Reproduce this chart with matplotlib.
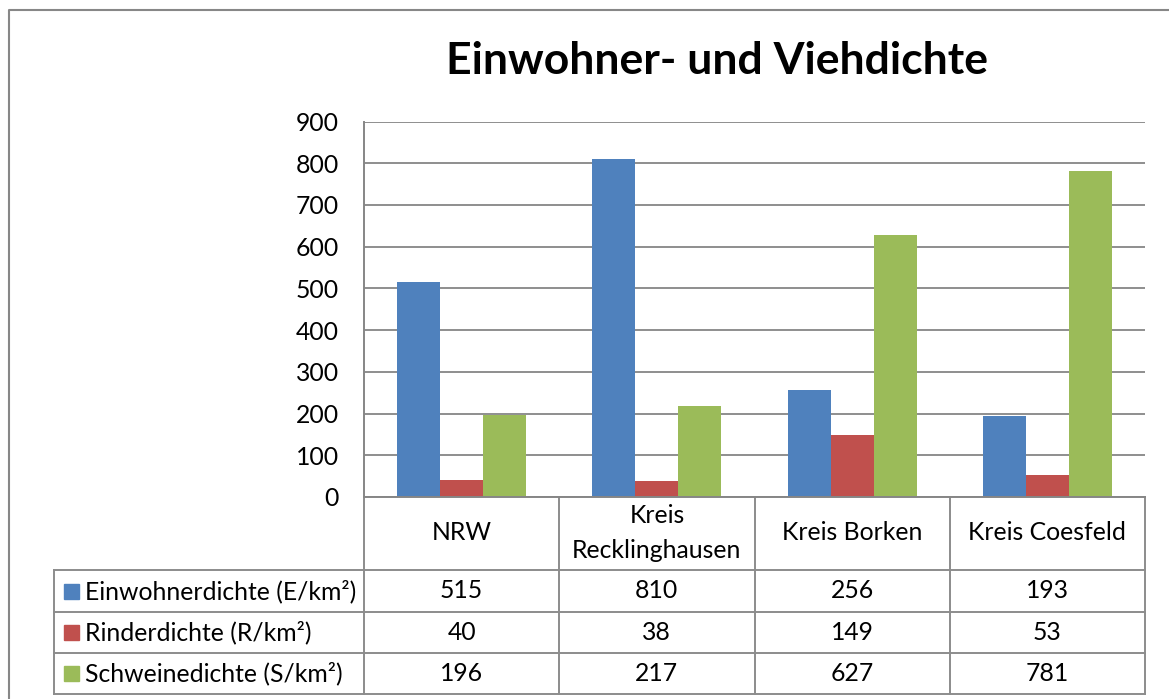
import numpy as np
import matplotlib.pyplot as plt
from matplotlib import transforms

plt.rcParams['font.family'] = ['Lato', 'DejaVu Sans']

# Daten
regionen = ['NRW', 'Kreis\nRecklinghausen', 'Kreis Borken', 'Kreis Coesfeld']
reihen = ['Einwohnerdichte (E/km²)', 'Rinderdichte (R/km²)', 'Schweinedichte (S/km²)']
einwohner = [515, 810, 256, 193]
rinder = [40, 38, 149, 53]
schweine = [196, 217, 627, 781]
farben = ['#4F81BD', '#C0504D', '#9BBB59']
werte = [einwohner, rinder, schweine]

W, H = 1169, 699
fig = plt.figure(figsize=(W / 100, H / 100), dpi=100)
fs = 17.8

# Zeichenflaeche in Pixeln
L, R, T, B = 364, 1145, 121.5, 497
ax = fig.add_axes([L / W, 1 - B / H, (R - L) / W, (B - T) / H])

x = np.arange(len(regionen))
breite = 0.22
for i, (serie, farbe) in enumerate(zip(werte, farben)):
    ax.bar(x + (i - 1) * breite, serie, breite, color=farbe, zorder=3)

ax.set_xlim(-0.5, len(regionen) - 0.5)
ax.set_ylim(0, 900)
ax.set_yticks(range(0, 901, 100))
ax.set_xticks([])
ax.tick_params(axis='y', length=0, pad=18, labelsize=fs)
ax.grid(axis='y', color='#868686', lw=1.3, zorder=0)
for s in ['top', 'right']:
    ax.spines[s].set_visible(False)
for s in ['left', 'bottom']:
    ax.spines[s].set_color('#868686')
    ax.spines[s].set_linewidth(1.4)
    ax.spines[s].set_zorder(4)

# Datentabelle unter der Grafik
grau = '#8C8C8C'
py = lambda p: (B - p) / (B - T)   # Pixel -> Achsenkoordinaten (y)
pxa = lambda p: (p - L) / (R - L)  # Pixel -> Achsenkoordinaten (x)
mix = transforms.blended_transform_factory(ax.transData, ax.transAxes)

zeilen = [570, 612, 653, 694]
for yy in zeilen:
    ax.plot([pxa(54), 1], [py(yy), py(yy)], color=grau, lw=1.4,
            transform=ax.transAxes, clip_on=False)
ax.plot([pxa(54), pxa(54)], [py(570), py(694)], color=grau, lw=1.4,
        transform=ax.transAxes, clip_on=False)
for g in np.arange(len(regionen) + 1) - 0.5:
    ax.plot([g, g], [0, py(694)], color=grau, lw=1.4,
            transform=mix, clip_on=False)

for xi, name in zip(x, regionen):
    ax.text(xi, py(533), name, transform=mix, ha='center', va='center',
            fontsize=fs, linespacing=1.6)

for r, (name, serie, farbe) in enumerate(zip(reihen, werte, farben)):
    mitte = py((zeilen[r] + zeilen[r + 1]) / 2)
    ax.text(pxa(85), mitte, name, transform=ax.transAxes, ha='left',
            va='center', fontsize=fs)
    ax.add_patch(plt.Rectangle((pxa(64), mitte - 7.5 / (B - T)),
                               15 / (R - L), 15 / (B - T), color=farbe,
                               transform=ax.transAxes, clip_on=False))
    for xi, v in zip(x, serie):
        ax.text(xi, mitte, str(v), transform=mix, ha='center', va='center',
                fontsize=fs)

# Titel und Rahmen
fig.text(717 / W, 1 - 61 / H, 'Einwohner- und Viehdichte', ha='center',
         va='center', fontsize=32, fontweight='bold')
fig.add_artist(plt.Line2D([9 / W, 9 / W, 1], [0, 1 - 9.5 / H, 1 - 9.5 / H],
                          color='#878787', lw=1.5, transform=fig.transFigure))

fig.savefig('out.png', dpi=100)
